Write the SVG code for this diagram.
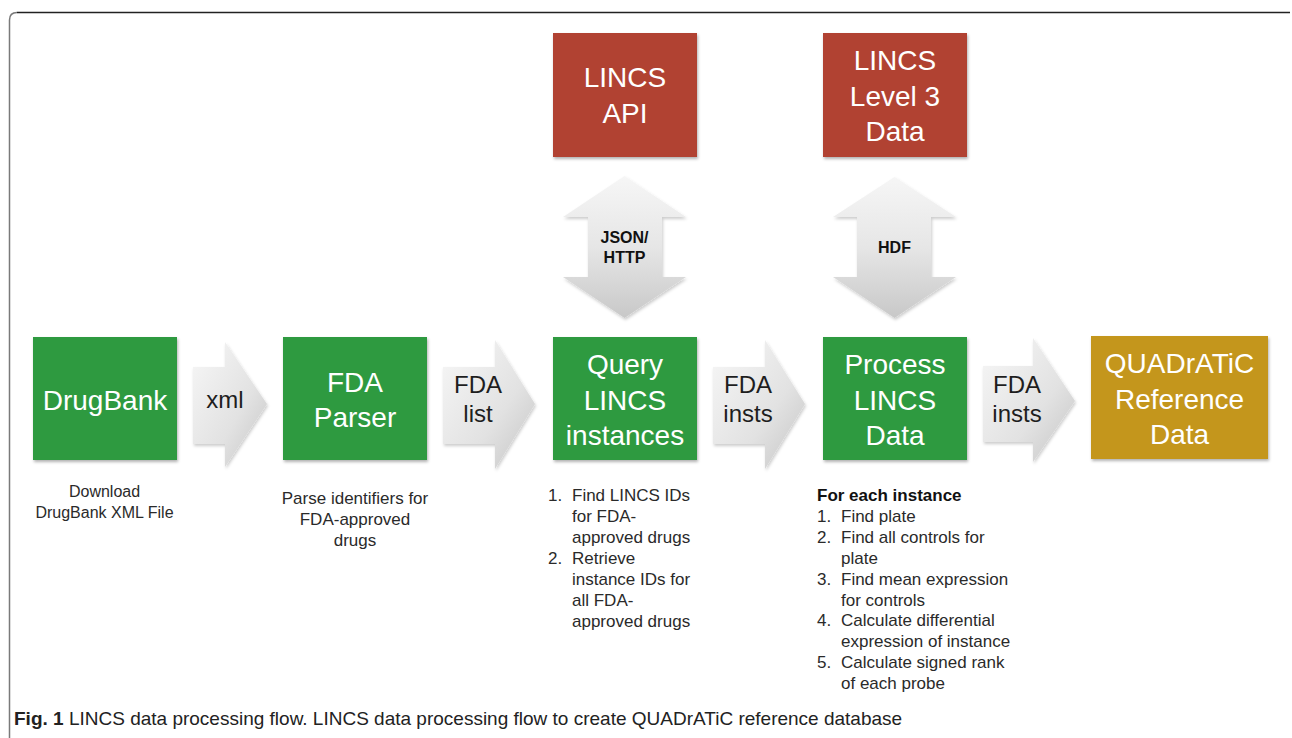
<svg xmlns="http://www.w3.org/2000/svg" width="1292" height="738" viewBox="0 0 1292 738">
<style>
.box-label{font-family:"Liberation Sans",Arial,sans-serif;font-size:28px;fill:#ffffff;text-anchor:middle}
.arr-label{font-family:"Liberation Sans",Arial,sans-serif;font-size:24px;fill:#1e1e1e;text-anchor:middle}
.v-label{font-family:"Liberation Sans",Arial,sans-serif;font-size:16px;font-weight:bold;fill:#111;text-anchor:middle}
.desc{font-family:"Liberation Sans",Arial,sans-serif;font-size:17px;fill:#2a2a2a}
.desc-c{font-family:"Liberation Sans",Arial,sans-serif;font-size:17px;fill:#2a2a2a;text-anchor:middle}
.desc-s{font-size:16px}
.caption{font-family:"Liberation Sans",Arial,sans-serif;font-size:19px;fill:#222}
.green{fill:#2f9a41;filter:url(#sh)}
.red{fill:#b14230;filter:url(#sh)}
.gold{fill:#c4961e;filter:url(#sh)}
.harrow{fill:url(#hg);filter:url(#sh2)}
.varrow{fill:url(#vg);filter:url(#sh2)}
</style>
<defs>
<filter id="sh" x="-10%" y="-10%" width="125%" height="125%">
<feDropShadow dx="1" dy="2" stdDeviation="1.5" flood-color="#000" flood-opacity="0.3"/>
</filter>
<filter id="sh2" x="-10%" y="-10%" width="125%" height="125%">
<feDropShadow dx="1" dy="2" stdDeviation="1.5" flood-color="#000" flood-opacity="0.2"/>
</filter>
<linearGradient id="hg" x1="0" y1="0" x2="1" y2="1">
<stop offset="0" stop-color="#f7f7f7"/>
<stop offset="0.6" stop-color="#e2e2e2"/>
<stop offset="1" stop-color="#c4c4c4"/>
</linearGradient>
<linearGradient id="vg" x1="0" y1="0" x2="0" y2="1">
<stop offset="0" stop-color="#f6f6f6"/>
<stop offset="0.5" stop-color="#e6e6e6"/>
<stop offset="1" stop-color="#c8c8c8"/>
</linearGradient>
</defs>
<rect x="0" y="0" width="1292" height="738" fill="#ffffff"/>
<g id="frame">
<path d="M9.5,738 V20 Q9.5,12.5 17,12.5" fill="none" stroke="#7a7a7a" stroke-width="1.5"/>
<path d="M17,12.5 H1290" fill="none" stroke="#222" stroke-width="1.5"/>
</g>

<g id="connectors">
<g id="arrow-xml">
<path class="harrow" d="M193,367 H225 V342 L267,404 L225,467 V444 H193 Z"/>
<text class="arr-label" x="225" y="408">xml</text>
</g>
<g id="arrow-fda-list">
<path class="harrow" d="M443,367 H495 V340 L535,404 L495,469 V444 H443 Z"/>
<text class="arr-label" x="478" y="393">FDA</text>
<text class="arr-label" x="478" y="422">list</text>
</g>
<g id="arrow-fda-insts-1">
<path class="harrow" d="M713,367 H765 V340 L805,404 L765,469 V444 H713 Z"/>
<text class="arr-label" x="748" y="393">FDA</text>
<text class="arr-label" x="748" y="422">insts</text>
</g>
<g id="arrow-fda-insts-2">
<path class="harrow" d="M983,366 H1033 V338 L1075,401 L1033,462 V442 H983 Z"/>
<text class="arr-label" x="1017" y="393">FDA</text>
<text class="arr-label" x="1017" y="422">insts</text>
</g>
<g id="arrow-json">
<path class="varrow" d="M624.5,176 L686,217 H662 V277 H686 L624.5,318 L563,277 H588 V217 H563 Z"/>
<text class="v-label" x="624.5" y="243">JSON/</text>
<text class="v-label" x="624.5" y="263">HTTP</text>
</g>
<g id="arrow-hdf">
<path class="varrow" d="M894.5,177 L956,217 H931 V277 H956 L894.5,318 L833,277 H857 V217 H833 Z"/>
<text class="v-label" x="894.5" y="253">HDF</text>
</g>
</g>

<g id="drugbank">
<rect class="green" x="33" y="337" width="144" height="123"/>
<text class="box-label" x="105" y="410">DrugBank</text>
<text class="desc-c desc-s" x="104.5" y="497">Download</text>
<text class="desc-c desc-s" x="104.5" y="518">DrugBank XML File</text>
</g>

<g id="fda-parser">
<rect class="green" x="283" y="337" width="144" height="123"/>
<text class="box-label" x="355" y="392">FDA</text>
<text class="box-label" x="355" y="427">Parser</text>
<text class="desc-c" x="355" y="504">Parse identifiers for</text>
<text class="desc-c" x="355" y="525">FDA-approved</text>
<text class="desc-c" x="355" y="546">drugs</text>
</g>

<g id="lincs-api">
<rect class="red" x="553" y="33" width="144" height="124"/>
<text class="box-label" x="625" y="87">LINCS</text>
<text class="box-label" x="625" y="123">API</text>
</g>

<g id="lincs-level3">
<rect class="red" x="823" y="33" width="144" height="124"/>
<text class="box-label" x="895" y="70">LINCS</text>
<text class="box-label" x="895" y="106">Level 3</text>
<text class="box-label" x="895" y="141">Data</text>
</g>

<g id="query-lincs">
<rect class="green" x="553" y="337" width="144" height="123"/>
<text class="box-label" x="625" y="374">Query</text>
<text class="box-label" x="625" y="410">LINCS</text>
<text class="box-label" x="625" y="445">instances</text>
<text class="desc" x="548" y="501">1.</text>
<text class="desc" x="572" y="501">Find LINCS IDs</text>
<text class="desc" x="572" y="522">for FDA-</text>
<text class="desc" x="572" y="543">approved drugs</text>
<text class="desc" x="548" y="564">2.</text>
<text class="desc" x="572" y="564">Retrieve</text>
<text class="desc" x="572" y="585">instance IDs for</text>
<text class="desc" x="572" y="606">all FDA-</text>
<text class="desc" x="572" y="627">approved drugs</text>
</g>

<g id="process-lincs">
<rect class="green" x="823" y="337" width="144" height="123"/>
<text class="box-label" x="895" y="374">Process</text>
<text class="box-label" x="895" y="410">LINCS</text>
<text class="box-label" x="895" y="445">Data</text>
<text class="desc" x="817" y="500.5" font-weight="bold" style="fill:#111">For each instance</text>
<text class="desc" x="817" y="521.5">1.</text>
<text class="desc" x="841" y="521.5">Find plate</text>
<text class="desc" x="817" y="542.5">2.</text>
<text class="desc" x="841" y="542.5">Find all controls for</text>
<text class="desc" x="841" y="563.5">plate</text>
<text class="desc" x="817" y="584.5">3.</text>
<text class="desc" x="841" y="584.5">Find mean expression</text>
<text class="desc" x="841" y="605.5">for controls</text>
<text class="desc" x="817" y="626">4.</text>
<text class="desc" x="841" y="626">Calculate differential</text>
<text class="desc" x="841" y="647">expression of instance</text>
<text class="desc" x="817" y="668">5.</text>
<text class="desc" x="841" y="668">Calculate signed rank</text>
<text class="desc" x="841" y="689">of each probe</text>
</g>

<g id="quadratic">
<rect class="gold" x="1091" y="336" width="177" height="123"/>
<text class="box-label" x="1179.5" y="373">QUADrATiC</text>
<text class="box-label" x="1179.5" y="409">Reference</text>
<text class="box-label" x="1179.5" y="444">Data</text>
</g>

<g id="caption">
<text class="caption" x="14" y="725"><tspan font-weight="bold">Fig. 1</tspan> LINCS data processing flow. LINCS data processing flow to create QUADrATiC reference database</text>
</g>
</svg>
